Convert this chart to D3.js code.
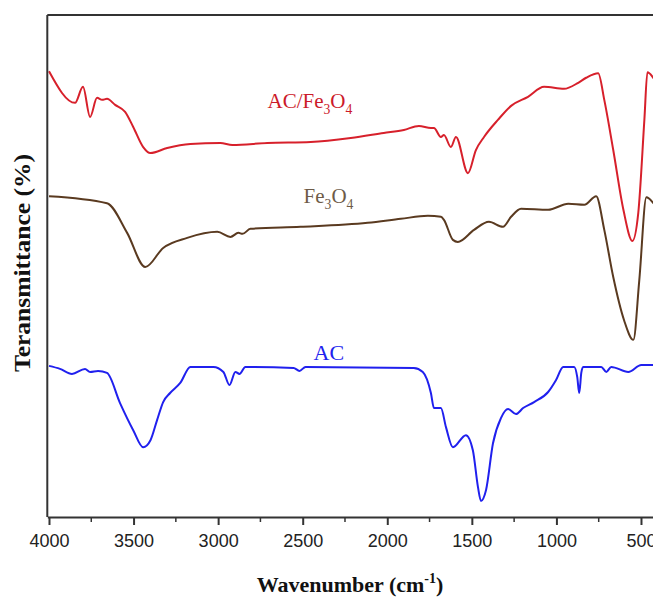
<!DOCTYPE html>
<html>
<head>
<meta charset="utf-8">
<script src="https://cdn.jsdelivr.net/npm/d3@7/dist/d3.min.js"></script>
<style>
  html, body { margin: 0; padding: 0; background: #fff; }
  svg { display: block; }
</style>
</head>
<body>
<svg id="chart" width="653" height="597"></svg>
<script>
// FTIR spectra: wavenumber (cm-1) vs. transmittance (a.u., offset for clarity)
const wavenumbersACFe = [4000,3846,3799,3757,3716,3686,3657,3609,3550,3502,3443,3401,3301,3164,2987,2916,2710,2453,2216,2021,1902,1813,1742,1724,1683,1665,1624,1594,1523,1476,1428,1346,1268,1168,1073,955,871,824,753,717,664,604,551,516,480,462,420];
const transACFe     = [88.8,82.5,85.7,79.7,83.5,83.1,83.3,82.1,80.7,77.7,73.7,72.5,73.5,74.3,74.5,74.1,74.5,74.7,75.5,76.5,77.1,77.9,77.5,77.5,75.7,76.1,73.7,75.7,68.5,73.1,75.7,79.1,81.9,83.7,85.7,85.3,86.5,87.5,88.4,83.1,73.1,61.2,55.0,60.6,79.1,88.6,87.1];

const wavenumbersFe = [4000,3657,3538,3431,3325,3183,3005,2927,2880,2856,2809,2513,2116,1920,1760,1683,1665,1612,1583,1487,1399,1316,1268,1209,1049,930,835,765,717,664,600,545,510,468,420];
const transFe       = [63.9,62.5,56.6,49.8,53.6,55.6,56.8,55.8,56.6,56.4,57.4,57.8,58.6,59.4,60.0,59.8,59.2,55.2,54.8,57.2,58.8,57.8,59.8,61.4,61.2,62.4,62.2,63.9,57.2,47.8,39.2,35.3,47.2,63.7,62.2];

const wavenumbersAC = [4000,3935,3864,3787,3757,3710,3657,3580,3502,3443,3400,3361,3325,3284,3224,3164,3028,2969,2933,2898,2874,2839,2554,2519,2483,1843,1790,1742,1724,1683,1653,1612,1535,1494,1464,1446,1416,1375,1328,1286,1239,1197,1132,1049,1002,960,895,877,865,853,842,735,705,676,575,498,420];
const transAC       = [30.1,29.5,28.5,29.5,28.9,29.1,28.7,22.7,17.3,13.9,15.3,19.3,22.9,24.7,26.7,29.9,29.9,28.9,26.3,28.9,28.5,29.9,29.7,29.1,29.9,29.7,28.9,24.7,21.7,21.7,17.9,13.9,16.3,13.3,6.0,3.2,5.4,14.7,19.7,21.5,20.5,21.7,22.9,24.9,27.3,29.9,29.9,27.9,24.7,28.7,29.9,29.9,28.9,29.9,28.9,30.3,30.3];

const majorTicks = [4000,3500,3000,2500,2000,1500,1000,500];
const minorTicks = [3750,3250,2750,2250,1750,1250,750];

const seriesNames  = ["AC/Fe3O4", "Fe3O4", "AC"];
const seriesColors = ["#d7202b", "#5a3a20", "#2020ee"];

const svg = d3.select("#chart");

const x = d3.scaleLinear().domain([4010, 400]).range([47.3, 657.9]);
const y = d3.scaleLinear().domain([0, 100]).range([517, 15]);

const series = [
  { name: seriesNames[0], color: seriesColors[0], pts: d3.zip(wavenumbersACFe, transACFe) },
  { name: seriesNames[1], color: seriesColors[1], pts: d3.zip(wavenumbersFe, transFe) },
  { name: seriesNames[2], color: seriesColors[2], pts: d3.zip(wavenumbersAC, transAC) }
];

// pixel x increases along each array (reversed axis), so monotone interpolation applies
const line = d3.line()
  .x(d => x(d[0]))
  .y(d => y(d[1]))
  .curve(d3.curveMonotoneX);

svg.append("g").selectAll("path")
  .data(series)
  .join("path")
  .attr("fill", "none")
  .attr("stroke", d => d.color)
  .attr("stroke-width", 2)
  .attr("stroke-linejoin", "round")
  .attr("d", d => line(d.pts));

// frame: top and left edges
const frameColor = "#333";
svg.append("line")
  .attr("x1", x.range()[0]).attr("x2", x.range()[1])
  .attr("y1", y.range()[1]).attr("y2", y.range()[1])
  .attr("stroke", frameColor).attr("stroke-width", 2);
svg.append("line")
  .attr("x1", x.range()[0]).attr("x2", x.range()[0])
  .attr("y1", y.range()[1]).attr("y2", y.range()[0])
  .attr("stroke", frameColor).attr("stroke-width", 2);

// bottom axis with major + minor ticks
const xAxis = d3.axisBottom(x)
  .tickValues(majorTicks)
  .tickFormat(d3.format("d"))
  .tickSize(8).tickSizeOuter(0).tickPadding(9);
const gx = svg.append("g").attr("transform", `translate(0,${y.range()[0]})`).call(xAxis);
gx.select(".domain").attr("stroke", frameColor).attr("stroke-width", 2);
gx.selectAll(".tick line").attr("stroke", frameColor).attr("stroke-width", 2);
gx.selectAll(".tick text")
  .attr("font-family", "'Liberation Sans', Arial, sans-serif")
  .attr("font-size", 18)
  .attr("fill", "#222");

svg.append("g").selectAll("line")
  .data(minorTicks)
  .join("line")
  .attr("x1", d => x(d)).attr("x2", d => x(d))
  .attr("y1", y.range()[0]).attr("y2", y.range()[0] + 5)
  .attr("stroke", frameColor).attr("stroke-width", 1.5);

// axis titles
const xTitle = svg.append("text")
  .attr("x", 350).attr("y", 592)
  .attr("text-anchor", "middle")
  .attr("font-family", "'Liberation Serif', 'Times New Roman', serif")
  .attr("font-weight", "bold")
  .attr("font-size", 22)
  .attr("fill", "#111");
xTitle.append("tspan").text("Wavenumber (cm");
xTitle.append("tspan").attr("font-size", 14).attr("dy", -9).text("-1");
xTitle.append("tspan").attr("dy", 9).text(")");

svg.append("text")
  .attr("transform", "translate(30,263) rotate(-90)")
  .attr("text-anchor", "middle")
  .attr("font-family", "'Liberation Serif', 'Times New Roman', serif")
  .attr("font-weight", "bold")
  .attr("font-size", 23)
  .attr("textLength", 218)
  .attr("lengthAdjust", "spacingAndGlyphs")
  .attr("fill", "#111")
  .text("Teransmittance (%)");

// curve labels (subscripted formula)
const labels = [
  { parts: [["AC/Fe",0],["3",1],["O",0],["4",1]], wn: 2708, t: 81.5, color: "#cc1a2a", size: 21 },
  { parts: [["Fe",0],["3",1],["O",0],["4",1]], wn: 2495, t: 62.5, color: "#6e5b48", size: 21 },
  { parts: [["AC",0]], wn: 2436, t: 31.3, color: "#2222ee", size: 22 }
];

labels.forEach(lb => {
  const t = svg.append("text")
    .attr("x", x(lb.wn)).attr("y", y(lb.t))
    .attr("font-family", "'Liberation Serif', 'Times New Roman', serif")
    .attr("font-size", lb.size)
    .attr("fill", lb.color);
  let shifted = false;
  lb.parts.forEach(([s, sub]) => {
    const ts = t.append("tspan").text(s);
    if (sub && !shifted) { ts.attr("font-size", lb.size * 0.65).attr("dy", 6); shifted = true; }
    else if (!sub && shifted) { ts.attr("dy", -6); shifted = false; }
  });
});
</script>
</body>
</html>
